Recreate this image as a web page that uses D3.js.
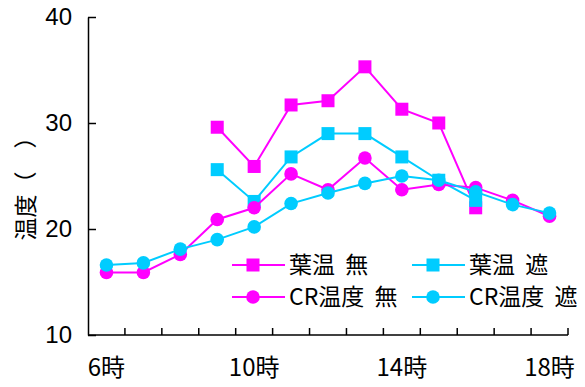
<!DOCTYPE html>
<html>
<head>
<meta charset="utf-8">
<script src="https://cdn.jsdelivr.net/npm/d3@7"></script>
<style>
  html, body { margin: 0; padding: 0; background: #fff; }
  svg { display: block; }
  text { fill: #000; }
</style>
</head>
<body>
<svg id="chart" width="585" height="387"></svg>
<script>
// Hourly temperatures, 6時 to 18時
const hours = [6, 7, 8, 9, 10, 11, 12, 13, 14, 15, 16, 17, 18];
const hourLabels = hours.map(h => h + "時");
const labeledHours = [6, 10, 14, 18];

// Leaf temperature (null = not measured)
const leafOpen   = [null, null, null, 29.6, 25.9, 31.7, 32.1, 35.3, 31.3, 30.0, 22.0, null, null];
const leafShade  = [null, null, null, 25.6, 22.6, 26.8, 29.0, 29.0, 26.8, 24.6, 22.7, null, null];
// CR temperature
const crOpen     = [15.9, 15.9, 17.6, 20.9, 22.0, 25.2, 23.7, 26.7, 23.7, 24.2, 23.9, 22.7, 21.2];
const crShade    = [16.6, 16.8, 18.1, 19.0, 20.2, 22.4, 23.4, 24.3, 25.0, 24.6, 23.5, 22.3, 21.5];

const yTicks = [10, 20, 30, 40];

const MAGENTA = "#ff00ff";
const CYAN = "#00ccff";

const series = [
  { name: "葉温 無",   values: leafOpen,  color: MAGENTA, marker: "square" },
  { name: "葉温 遮",   values: leafShade, color: CYAN,    marker: "square" },
  { name: "CR温度 無", values: crOpen,    color: MAGENTA, marker: "circle" },
  { name: "CR温度 遮", values: crShade,   color: CYAN,    marker: "circle" }
];

const svg = d3.select("#chart");
const plot = { left: 88, right: 568, top: 17, bottom: 335 };

const x = d3.scaleBand().domain(hours).range([plot.left, plot.right]).padding(0);
const cx = h => x(h) + x.bandwidth() / 2;
const y = d3.scaleLinear().domain([10, 40]).range([plot.bottom, plot.top]);

const AXIS_FONT = "'Liberation Sans', Arial, sans-serif";
const CJK_FONT = "'Noto Sans CJK JP', sans-serif";

// Y axis with inward ticks
const yAxis = svg.append("g")
  .attr("transform", `translate(${plot.left},0)`)
  .call(d3.axisLeft(y).tickValues(yTicks).tickSizeInner(-8).tickSizeOuter(0).tickPadding(16));
yAxis.select(".domain").attr("stroke", "#000").attr("stroke-width", 1.5);
yAxis.selectAll(".tick line").attr("stroke", "#000").attr("stroke-width", 1.5);
yAxis.selectAll(".tick text")
  .attr("font-family", AXIS_FONT).attr("font-size", 24).attr("fill", "#000");

// X axis: baseline, category-boundary ticks pointing up, labels every 4 hours
const xAxis = svg.append("g").attr("transform", `translate(0,${plot.bottom})`);
xAxis.append("line")
  .attr("x1", plot.left).attr("x2", plot.right)
  .attr("stroke", "#000").attr("stroke-width", 1.5);
const boundaries = hours.map(h => x(h)).concat([plot.right]);
xAxis.selectAll("line.tick")
  .data(boundaries.slice(1))
  .join("line")
  .attr("class", "tick")
  .attr("x1", d => d).attr("x2", d => d)
  .attr("y1", 0).attr("y2", -7)
  .attr("stroke", "#000").attr("stroke-width", 1.5);
xAxis.selectAll("text")
  .data(labeledHours)
  .join("text")
  .attr("x", d => cx(d))
  .attr("y", 41)
  .attr("text-anchor", "middle")
  .attr("font-family", CJK_FONT)
  .attr("font-size", 24)
  .text(d => hourLabels[hours.indexOf(d)]);

// Y axis title
svg.append("text")
  .attr("transform", `translate(34,183) rotate(-90)`)
  .attr("text-anchor", "middle")
  .attr("font-family", CJK_FONT)
  .attr("font-size", 23)
  .text("温度（　）");

// Series lines and markers
const line = d3.line()
  .defined(d => d.v != null)
  .x(d => cx(d.h))
  .y(d => y(d.v));

function drawMarker(g, type, color, px, py) {
  if (type === "square") {
    g.append("rect")
      .attr("x", px - 6.5).attr("y", py - 6.5)
      .attr("width", 13).attr("height", 13)
      .attr("fill", color);
  } else {
    g.append("circle")
      .attr("cx", px).attr("cy", py).attr("r", 6.8)
      .attr("fill", color);
  }
}

series.forEach(s => {
  const pts = hours.map((h, i) => ({ h, v: s.values[i] }));
  const g = svg.append("g");
  g.append("path")
    .datum(pts)
    .attr("d", line)
    .attr("fill", "none")
    .attr("stroke", s.color)
    .attr("stroke-width", 2);
  pts.filter(p => p.v != null).forEach(p => drawMarker(g, s.marker, s.color, cx(p.h), y(p.v)));
});

// Legend (2 x 2)
const legendPos = [
  { lx: 232, ly: 265 }, { lx: 412, ly: 265 },
  { lx: 232, ly: 297 }, { lx: 412, ly: 297 }
];
series.forEach((s, i) => {
  const p = legendPos[i];
  const g = svg.append("g").attr("transform", `translate(${p.lx},${p.ly})`);
  g.append("line").attr("x1", 0).attr("x2", 53)
    .attr("stroke", s.color).attr("stroke-width", 2);
  drawMarker(g, s.marker, s.color, 21, 0);
  g.append("text")
    .attr("x", 57).attr("y", 8)
    .attr("font-family", CJK_FONT)
    .attr("font-size", 23)
    .attr("word-spacing", 5)
    .text(s.name);
});
</script>
</body>
</html>
